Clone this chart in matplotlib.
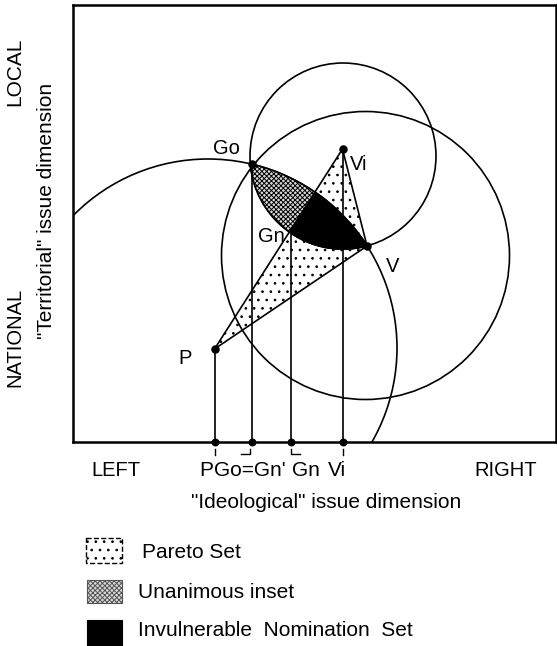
import numpy as np
import matplotlib
matplotlib.use("Agg")
import matplotlib.pyplot as plt
from matplotlib.patches import Polygon, Circle, Rectangle

plt.rcParams['font.family'] = ['Liberation Sans', 'DejaVu Sans']
plt.rcParams['hatch.linewidth'] = 0.7

# Ideal points (ideological, territorial)
point_names = ["P", "Go", "Gn", "Vi", "V"]
point_x = [141.5, 178.5, 218, 269.5, 294]
point_y = [93, 278, 209, 293, 196]

# indifference circles around P, Vi and V
circle_cx = [135, 270, 292.5]
circle_cy = [94, 286, 186.5]
circle_r = [189, 93, 144]

# Pareto triangle and the points dropped onto the ideological axis
pareto_names = ["P", "Vi", "V"]
axis_names = ["P", "Go", "Gn", "Vi"]
axis_labels = ["P", "Go=Gn'", "Gn", "Vi"]

legend_labels = ["Pareto Set", "Unanimous inset", "Invulnerable  Nomination  Set"]

pt = {n: (x, y) for n, x, y in zip(point_names, point_x, point_y)}


def circle_xy(i, n=1440):
    t = np.linspace(0, 2 * np.pi, n, endpoint=False)
    return np.column_stack([circle_cx[i] + circle_r[i] * np.cos(t),
                            circle_cy[i] + circle_r[i] * np.sin(t)])


def lens(i, j):
    # intersection of two discs as a polygon
    a = circle_xy(i)
    b = circle_xy(j)
    ina = a[np.hypot(a[:, 0] - circle_cx[j], a[:, 1] - circle_cy[j]) <= circle_r[j]]
    inb = b[np.hypot(b[:, 0] - circle_cx[i], b[:, 1] - circle_cy[i]) <= circle_r[i]]
    pts = np.vstack([ina, inb])
    c = pts.mean(axis=0)
    order = np.argsort(np.arctan2(pts[:, 1] - c[1], pts[:, 0] - c[0]))
    return pts[order]


fig = plt.figure(figsize=(5.57, 6.46), dpi=100)
ax = fig.add_axes([73 / 557, 204 / 646, 483 / 557, 437 / 646])
ax.set_xlim(0, 483)
ax.set_ylim(0, 437)
ax.set_xticks([])
ax.set_yticks([])
for s in ax.spines.values():
    s.set_linewidth(1.8)

# circles
for i in range(len(circle_r)):
    ax.add_patch(Circle((circle_cx[i], circle_cy[i]), circle_r[i], fill=False,
                        lw=1.2, ec='black', zorder=2))

# Pareto set (dotted triangle)
tri_xy = [pt[n] for n in pareto_names]
tri = Polygon(tri_xy, closed=True, fc='white', ec='black', hatch='..', lw=0, zorder=1)
ax.add_patch(tri)

# unanimous inset = lens of P and Vi circles
lens_xy = lens(0, 1)
ax.add_patch(Polygon(lens_xy, closed=True, fc='#d8d8d8', ec='black', hatch='xxxxxxx',
                     lw=1.2, zorder=3))
# invulnerable nomination set = lens inside the Pareto triangle
black = Polygon(lens_xy, closed=True, fc='black', ec='black', lw=1.2, zorder=4)
ax.add_patch(black)
black.set_clip_path(tri)

# triangle edges
for a, b in [("P", "Vi"), ("Vi", "V"), ("V", "P")]:
    ax.plot([pt[a][0], pt[b][0]], [pt[a][1], pt[b][1]], color='black', lw=1.2, zorder=5)

# drop lines to the ideological axis
for n in axis_names:
    ax.plot([pt[n][0], pt[n][0]], [0, pt[n][1]], color='black', lw=1.2, zorder=5)
ax.scatter([pt[n][0] for n in axis_names], [0] * len(axis_names), s=22, color='black',
           zorder=6, clip_on=False)

dot_names = ["P", "Go", "Vi", "V"]
ax.scatter([pt[n][0] for n in dot_names], [pt[n][1] for n in dot_names], s=26,
           color='black', zorder=6)

# point labels
label_off = {"P": (-29, -9), "Go": (-25, 15), "Gn": (-20, -4), "Vi": (16, -16), "V": (26, -21)}
for n in point_names:
    ax.text(pt[n][0] + label_off[n][0], pt[n][1] + label_off[n][1], n, fontsize=14.5,
            ha='center', va='center', zorder=7)

# little tick marks under the axis
kw = dict(color='black', lw=1.0, clip_on=False)
xp, xg, xn, xv = [pt[n][0] for n in axis_names]
ax.plot([xp, xp], [-7, -13], **kw)
ax.plot([xg - 11, xg - 2, xg - 2], [-12, -12, -7], **kw)
ax.plot([xn, xn, xn + 9], [-7, -12, -12], **kw)
ax.plot([xv, xv], [-7, -13], **kw)

tick_off = [-8, -2, 15, -6]
for n, lab, dx in zip(axis_names, axis_labels, tick_off):
    ax.text(pt[n][0] + dx, -28, lab, fontsize=15, ha='center', va='center')

# overlay in pixel coordinates for outer text and legend
ov = fig.add_axes([0, 0, 1, 1])
ov.set_xlim(0, 557)
ov.set_ylim(646, 0)
ov.axis('off')
ov.patch.set_alpha(0)

ov.text(116, 470, "LEFT", fontsize=14.5, ha='center', va='center')
ov.text(506, 470, "RIGHT", fontsize=14.5, ha='center', va='center')
ov.text(326, 502, "\"Ideological\" issue dimension", fontsize=15, ha='center', va='center')
ov.text(15, 72, "LOCAL", fontsize=15, rotation=90, ha='center', va='center')
ov.text(15, 337, "NATIONAL", fontsize=14.5, rotation=90, ha='center', va='center')
ov.text(47, 211, "\"Territorial\" issue dimension", fontsize=15, rotation=90,
        ha='center', va='center')

ov.add_patch(Rectangle((86, 538), 36, 25, fc='white', ec='black', lw=1.0, ls='--', hatch='..'))
ov.add_patch(Rectangle((87, 580), 35, 23, fc='#d8d8d8', ec='#555555', lw=0.8, hatch='xxxxxxx'))
ov.add_patch(Rectangle((87, 620), 35, 30, fc='black', ec='black', lw=0.8, clip_on=False))
for lab, xx, yy in zip(legend_labels, [142, 138, 138], [552, 592, 630]):
    ov.text(xx, yy, lab, fontsize=15, ha='left', va='center')

fig.savefig("out.png", dpi=100, facecolor='white')
